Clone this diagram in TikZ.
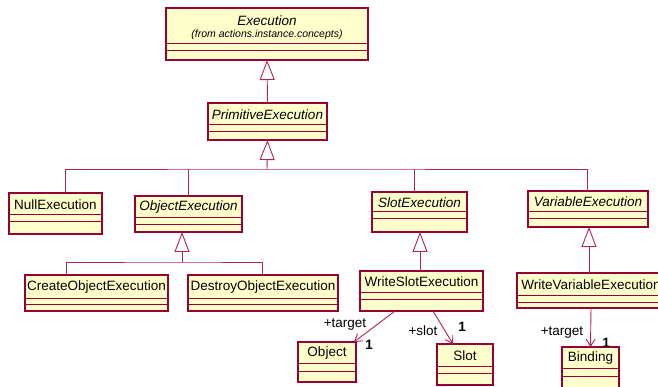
\documentclass[tikz,border=0pt]{standalone}
\usepackage{fontspec}
\setmainfont{Liberation Sans}
\usetikzlibrary{arrows.meta}
\definecolor{umlfill}{RGB}{255,255,204}
\definecolor{umlborder}{RGB}{150,0,50}
\definecolor{umlline}{RGB}{175,35,85}
\tikzset{
 clsbox/.style={draw=umlborder, fill=umlfill, line width=1.2pt, inner sep=0pt, outer sep=0pt, rectangle},
 clsline/.style={draw=umlborder, line width=1pt},
 clsname/.style={font=\fontsize{13.5}{16}\selectfont, inner sep=0pt, text=black},
 conn/.style={draw=umlline, line width=0.9pt},
 gen/.style={conn, -{Triangle[open, length=20pt, width=15pt]}},
 assoc/.style={conn, -{Straight Barb[length=7pt, width=9pt]}},
 lbl/.style={font=\fontsize{13.5}{16}\selectfont, inner sep=0pt},
 mult/.style={font=\fontsize{13.5}{16}\selectfont\bfseries, inner sep=0pt},
}
% #1 name, #2 x1, #3 y1, #4 x2, #5 y2, #6 c1, #7 c2, #8 text
\newcommand\umlbox[8]{%
 \node[clsbox, minimum width={(#4-#2)*1pt}, minimum height={(#5-#3)*1pt}, anchor=north west] (#1) at (#2,#3) {};
 \draw[clsline] (#2,#6) -- (#4,#6) (#2,#7) -- (#4,#7);
 \node[clsname] (#1-name) at ({(#2+#4)/2},{(#3+#6)/2+0.5}) {#8};
}
\begin{document}
\begin{tikzpicture}[x=1pt,y=-1pt]
\useasboundingbox (0,0) rectangle (658,387);
\clip (0,0) rectangle (658,387);

\umlbox{exec}{166}{8}{368}{60}{44}{51}{}
\node[clsname, font=\fontsize{13.5}{16}\selectfont\itshape] (exec-title) at (267,21) {Execution};
\node[clsname, font=\fontsize{10.5}{12}\selectfont\itshape] (exec-from) at (267,35) {(from actions.instance.concepts)};

\umlbox{prim}{208}{103}{327}{140}{125}{132}{\itshape PrimitiveExecution}
\umlbox{null}{9}{193}{102}{234}{215}{222}{NullExecution}
\umlbox{objx}{135}{196}{242}{232}{218}{225}{\itshape ObjectExecution}
\umlbox{slotx}{372}{192}{467}{232}{212}{219}{\itshape SlotExecution}
\umlbox{varx}{528}{191}{648}{227}{212}{219}{\itshape VariableExecution}
\umlbox{create}{25}{275}{168}{311}{298}{304}{CreateObjectExecution}
\umlbox{destroy}{188}{275}{338}{311}{298}{304}{DestroyObjectExecution}
\umlbox{wslot}{360}{271}{483}{311}{292}{299}{WriteSlotExecution}
\umlbox{wvar}{517}{273}{665}{308}{295}{302}{WriteVariableExecution}
\umlbox{obj}{298}{342}{356}{382}{363}{371}{Object}
\umlbox{slot}{437}{344}{493}{385}{366}{373}{Slot}
\umlbox{bind}{562}{347}{619}{395}{368}{376}{Binding}

% generalizations
\draw[gen] (prim.north) -- (exec.south);
\coordinate (j1) at (267,169);
\draw[gen] (j1) -- (prim.south);
\coordinate (nulltop) at ([xshift=9.5pt]null.north);
\coordinate (vartop) at ([xshift=-1pt]varx.north);
\coordinate (slottop) at ([xshift=-5.5pt]slotx.north);
\draw[conn] (nulltop) |- (j1) -| (vartop);
\draw[conn] (objx.north) -- (objx.north |- j1);
\draw[conn] (slottop) -- (slottop |- j1);

\coordinate (oxb) at ([xshift=-6.5pt]objx.south);
\coordinate (j2) at (182,262);
\draw[gen] (j2) -- (oxb);
\coordinate (createtop) at ([xshift=-30.5pt]create.north);
\coordinate (destroytop) at ([xshift=-1pt]destroy.north);
\draw[conn] (createtop) |- (j2) -| (destroytop);

\draw[gen] ([xshift=-1.5pt]wslot.north) -- ([xshift=0.5pt]slotx.south);
\draw[gen] ([xshift=-2pt]wvar.north) -- ([xshift=1pt]varx.south);

% associations
\draw[assoc] ([xshift=-26.5pt]wslot.south) -- ([xshift=-2pt]obj.north east);
\draw[assoc] ([xshift=11.5pt]wslot.south) -- ([xshift=-12pt]slot.north);
\draw[assoc] (wvar.south) -- (bind.north);

\node[lbl] (l-target1) at (345,325) {+target};
\node[mult] (m-target1) at (369,345) {1};
\node[lbl] (l-slot) at (423,331) {+slot};
\node[mult] (m-slot) at (462,327) {1};
\node[lbl] (l-target2) at (562,333) {+target};
\node[mult] (m-target2) at (606,343) {1};
\end{tikzpicture}
\end{document}
